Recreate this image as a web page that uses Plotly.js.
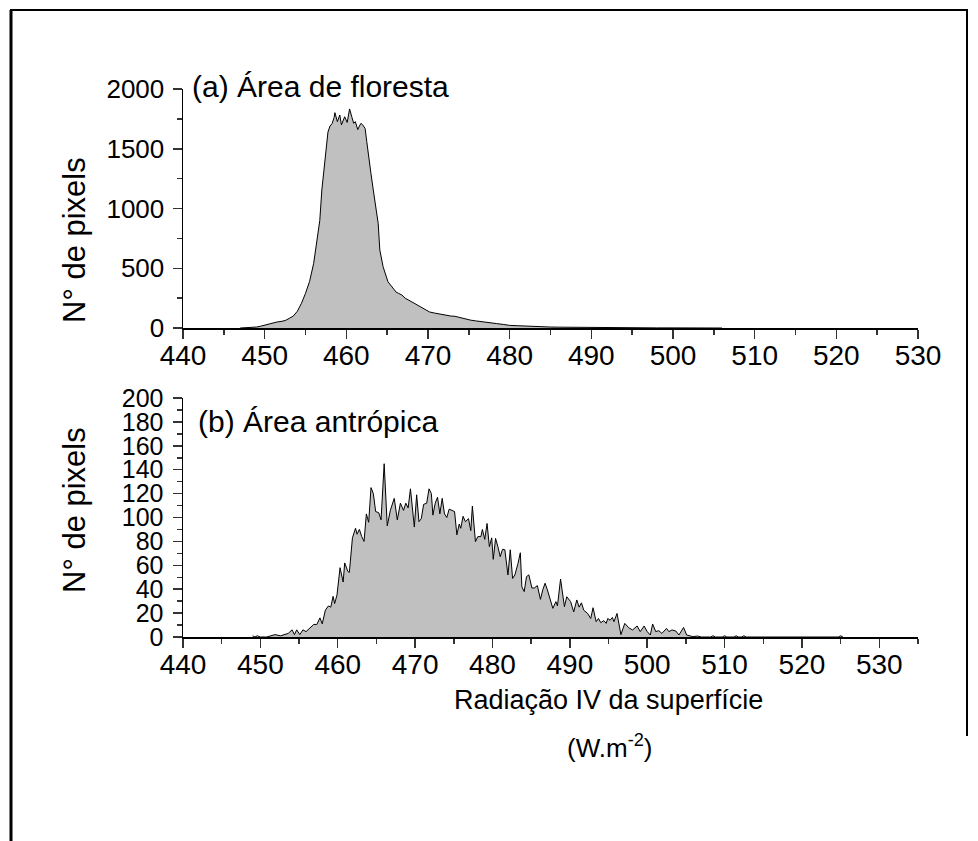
<!DOCTYPE html>
<html>
<head>
<meta charset="utf-8">
<script src="https://cdn.plot.ly/plotly-3.0.1.min.js"></script>
<style>html,body{margin:0;padding:0;background:#fff;}#chart{width:978px;height:841px;}</style>
</head>
<body>
<div id="chart"></div>
<script>
// (a) Área de floresta
const forestX = [447,448,449,449.5,450,450.5,451,451.5,452,452.5,453,453.5,454,454.5,455,455.5,456,456.25,456.5,456.75,457,457.25,457.5,457.75,458,458.25,458.5,458.6,458.9,459.2,459.4,459.6,459.8,460.1,460.4,460.7,460.9,461.1,461.4,461.6,461.8,462.0,462.3,462.5,462.7,463.0,463.3,463.6,463.9,464.1,464.5,465.1,465.7,466.1,466.4,466.8,467.2,467.8,468.3,468.8,469.2,469.6,470.2,470.8,471.5,472.2,472.8,473.3,473.8,474.2,474.7,475.2,475.8,476.4,477,477.6,478.4,479.2,480,481,482,483,484,485,486,487,488,489,490,492,494,496,498,500,503,506];
const forestN = [0,2,8,15,25,35,45,50,55,62,80,100,140,206,290,390,541,650,760,900,1155,1300,1480,1640,1690,1710,1760,1802,1727,1782,1700,1740,1768,1720,1833,1760,1713,1727,1660,1690,1713,1700,1670,1560,1433,1300,1155,1010,876,653,513,387,331,300,290,276,250,226,205,190,170,154,134,125,115,108,100,98,88,80,70,66,60,56,50,44,37,30,22,19,15,12,10,8,7,6,5,4,3,3,2,2,1,1,1,0];

// (b) Área antrópica
const anthropicX = [449.0,449.3,449.6,450.0,450.8,451.3,451.9,452.6,453.2,453.6,454.1,454.4,454.7,455.1,455.5,455.9,456.4,456.9,457.3,457.7,458.0,458.4,458.8,459.1,459.4,459.6,459.9,460.3,460.7,460.9,461.3,461.5,461.9,462.3,462.5,462.8,463.1,463.4,463.7,464.0,464.3,464.6,464.9,465.3,465.6,466.0,466.4,466.8,467.3,467.7,468.1,468.5,468.8,469.1,469.4,469.6,469.9,470.2,470.5,470.8,471.1,471.5,471.8,472.1,472.3,472.6,472.9,473.2,473.5,473.8,474.1,474.4,474.8,475.1,475.4,475.7,475.9,476.2,476.5,476.9,477.2,477.4,477.8,478.1,478.5,478.7,479.0,479.3,479.6,479.9,480.1,480.4,480.7,481.0,481.3,481.6,482.0,482.3,482.6,482.9,483.3,483.6,483.8,484.1,484.4,484.7,485.1,485.4,485.8,486.2,486.5,486.8,487.1,487.5,487.8,488.2,488.4,488.8,489.3,489.6,490.1,490.5,490.9,491.2,491.5,491.8,492.3,492.7,493.0,493.4,493.7,494.0,494.4,494.7,494.9,495.2,495.5,495.7,496.1,496.6,497.1,497.6,498.1,498.7,499.1,499.6,500.0,500.4,500.7,501.1,501.5,501.9,502.5,502.8,503.2,503.7,504.1,504.7,505.1,505.9,506.5,507.0,508.2,508.5,508.8,509.7,510.0,510.3,511.2,511.5,511.8,512.2,512.5,512.8,524.7,525.0,525.3];
const anthropicN = [1,0,1,0,0,1,2,1,2,3,6,2,6,2,6,4.5,7.5,10.5,10.5,16,11,22.5,26,25,34,28,35,58,46,62,55,54,83,91,86,90,84,80,103,96,125,120,105,104,98,145,93,106,116,98,112,106,112,108,124,109,92,119,96.5,99,111,112,124,120,102,112,117,103,116,103,100,107,106,105,85.5,94.5,91,101,96.5,99,89,109.6,79.8,84,84,90,81.7,95,75.6,83,65,82.5,75.6,67.2,73.4,73,51.9,73,49,52,61.6,70.5,42,38,50.5,52,41,41,43,31.5,39.4,45,39.4,31.5,24,29.6,26,48.5,25.4,33.7,29.6,21,31,25,28.6,22.4,19.7,15.5,24.5,12.8,15.5,12,13.7,11.4,15.5,14,16.4,12.8,19.7,2,11.4,7.8,5.9,9.2,4.5,9.2,4.5,1.7,10.9,4.5,5.3,3,7.2,4.5,5.9,5,1.7,8,1.7,0.3,0.8,0,0,1,0,0,1,0,0,1,0,0,1,0,0,1,0];

const panelTitles = ['(a) Área de floresta', '(b) Área antrópica'];
const yTitle = 'N° de pixels';
const xTitleLine1 = 'Radiação IV da superfície';
const xTitleLine2 = '(W.m<sup>-2</sup>)';

const W = 978, H = 841;
const FONT = 'Liberation Sans, Arial, Helvetica, sans-serif';
const px = v => v / W;
const py = v => 1 - v / H;

const fillStyle = {
  type: 'scatter', mode: 'lines', fill: 'tozeroy',
  fillcolor: '#c0c0c0', line: {color: '#000', width: 1, shape: 'linear'},
  hoverinfo: 'skip'
};

const traces = [
  Object.assign({}, fillStyle, {x: forestX, y: forestN, xaxis: 'x', yaxis: 'y'}),
  Object.assign({}, fillStyle, {x: anthropicX, y: anthropicN, xaxis: 'x2', yaxis: 'y2'})
];

function axisBase(extra) {
  return Object.assign({
    showline: true, linecolor: '#000', linewidth: 1.5,
    ticks: 'outside', ticklen: 9, tickwidth: 1.5, tickcolor: '#333',
    showgrid: false, zeroline: false,
    tickfont: {family: FONT, size: 26, color: '#000'},
    fixedrange: true
  }, extra);
}

const xDom = [px(183), px(918)];
const minorX = {dtick: 5, ticklen: 5, tickwidth: 1.5, tickcolor: '#333', ticks: 'outside'};

const layout = {
  width: W, height: H,
  margin: {l: 0, r: 0, t: 0, b: 0},
  paper_bgcolor: '#fff', plot_bgcolor: 'rgba(0,0,0,0)',
  showlegend: false,
  font: {family: FONT, size: 26, color: '#000'},
  xaxis: axisBase({domain: xDom, range: [440, 530], anchor: 'y', tick0: 440, dtick: 10,
    minor: minorX, tickfont: {family: FONT, size: 28, color: '#000'}, ticklabelstandoff: -7}),
  yaxis: axisBase({domain: [py(328), py(89)], range: [0, 2000], anchor: 'x', tick0: 0, dtick: 500,
    minor: {dtick: 250, ticklen: 5, tickwidth: 1.5, tickcolor: '#333', ticks: 'outside'},
    ticklabelstandoff: 3}),
  xaxis2: axisBase({domain: xDom, range: [440, 535], anchor: 'y2', tick0: 440, dtick: 10,
    minor: minorX, tickfont: {family: FONT, size: 28, color: '#000'}, ticklabelstandoff: -7}),
  yaxis2: axisBase({domain: [py(637), py(398)], range: [0, 200], anchor: 'x2', tick0: 0, dtick: 20,
    minor: {dtick: 10, ticklen: 5, tickwidth: 1.5, tickcolor: '#333', ticks: 'outside'},
    tickfont: {family: FONT, size: 25, color: '#000'}, ticklabelstandoff: 4}),
  annotations: [
    {xref: 'paper', yref: 'paper', x: px(190), y: py(87), xanchor: 'left', yanchor: 'middle',
     text: panelTitles[0], showarrow: false, font: {family: FONT, size: 30}},
    {xref: 'paper', yref: 'paper', x: px(196), y: py(421), xanchor: 'left', yanchor: 'middle',
     text: panelTitles[1], showarrow: false, font: {family: FONT, size: 30}},
    {xref: 'paper', yref: 'paper', x: px(74), y: py(240), xanchor: 'center', yanchor: 'middle',
     text: yTitle, textangle: -90, showarrow: false, font: {family: FONT, size: 31}},
    {xref: 'paper', yref: 'paper', x: px(74), y: py(510), xanchor: 'center', yanchor: 'middle',
     text: yTitle, textangle: -90, showarrow: false, font: {family: FONT, size: 31}},
    {xref: 'paper', yref: 'paper', x: px(608), y: py(700), xanchor: 'center', yanchor: 'middle',
     text: xTitleLine1, showarrow: false, font: {family: FONT, size: 27}},
    {xref: 'paper', yref: 'paper', x: px(610), y: py(746), xanchor: 'center', yanchor: 'middle',
     text: xTitleLine2, showarrow: false, font: {family: FONT, size: 26}}
  ],
  shapes: [
    {type: 'line', xref: 'paper', yref: 'paper', x0: px(11), x1: px(11), y0: 0, y1: py(10), line: {color: '#000', width: 3}},
    {type: 'line', xref: 'paper', yref: 'paper', x0: px(10), x1: px(968), y0: py(10), y1: py(10), line: {color: '#000', width: 2}},
    {type: 'line', xref: 'paper', yref: 'paper', x0: px(967), x1: px(967), y0: py(10), y1: py(736), line: {color: '#000', width: 2}}
  ]
};

Plotly.newPlot('chart', traces, layout, {displayModeBar: false, staticPlot: true});
</script>
</body>
</html>
